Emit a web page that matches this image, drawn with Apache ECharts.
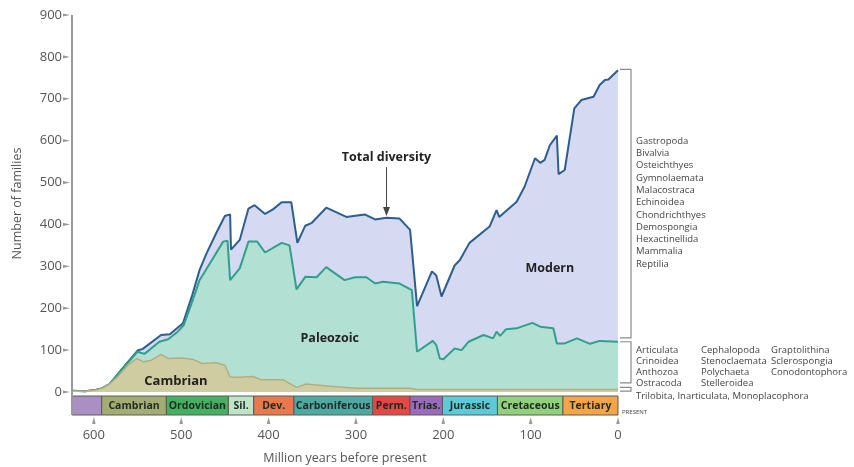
<!DOCTYPE html>
<html><head><meta charset="utf-8">
<script src="https://cdn.jsdelivr.net/npm/echarts/dist/echarts.min.js"></script>
<style>html,body{margin:0;padding:0;background:#fff}#c{width:854px;height:467px}</style>
</head><body><div id="c"></div>
<script>
// ---- data (age in million years before present, number of families) ----
const totalAges = [625,610,598,590,582,567,550,544,523,513,498,488,479,471,460,450,444,443,433,423,416,404,395,385,374,367,358,351,334,311,290,278,265,250,238,230,213,208,202,187,181,170,147,139,136,116,107,95,89,84,78,70,68,61,50,42,28,21,15,11,0];
const totalFamilies = [3,2,5,9,19,57,99,103,136,138,164,227,291,331,379,420,424,340,363,438,446,425,436,453,453,356,397,403,440,418,424,412,416,414,387,205,288,278,228,302,315,356,395,434,418,454,490,558,547,554,589,612,520,530,677,697,705,733,745,746,768];

const paleoTopAges = [625,610,598,590,582,567,550,542,525,515,504,497,488,479,466,452,447,444,433,423,413,404,385,376,368,358,345,334,313,301,288,278,269,250,236,230,212,208,204,200,187,179,171,154,143,139,135,128,116,98,89,74,70,61,47,32,21,0];
const paleoTopFamilies = [3,2,5,9,19,56,96,91,120,126,144,160,212,267,311,359,361,267,295,359,359,333,356,350,245,275,274,298,267,274,274,259,263,259,243,96,122,112,80,78,104,100,120,136,128,144,134,150,152,165,156,152,116,116,128,115,122,120];

const cambrianAges = [625,610,598,590,582,572,560,551,543,534,523,515,500,487,476,460,450,444,433,418,408,383,368,357,330,299,238,230,0];
const cambrianFamilies = [3,2,5,9,19,38,66,80,72,76,90,80,81,78,68,70,64,36,35,37,29,29,11,19,14,9,9,6,6];

const periodNames = ['', 'Cambrian', 'Ordovician', 'Sil.', 'Dev.', 'Carboniferous', 'Perm.', 'Trias.', 'Jurassic', 'Cretaceous', 'Tertiary'];
const periodStart = [625, 591, 517, 446, 417, 371, 281, 238, 201, 138, 63];
const periodEnd   = [591, 517, 446, 417, 371, 281, 238, 201, 138, 63, 0];

const xTicks = [0, 100, 200, 300, 400, 500, 600];
const yTicks = [0, 100, 200, 300, 400, 500, 600, 700, 800, 900];

const modernClasses = ['Gastropoda','Bivalvia','Osteichthyes','Gymnolaemata','Malacostraca','Echinoidea','Chondrichthyes','Demospongia','Hexactinellida','Mammalia','Reptilia'];
const paleozoicClasses = [
  ['Articulata','Crinoidea','Anthozoa','Ostracoda'],
  ['Cephalopoda','Stenoclaemata','Polychaeta','Stelleroidea'],
  ['Graptolithina','Sclerospongia','Conodontophora']
];
const cambrianClasses = 'Trilobita, Inarticulata, Monoplacophora';

// ---- styles ----
const periodColors = ['#a98fc2','#a3ad73','#45b062','#bfe3c6','#e8794f','#4ea9a3','#e04a43','#9b6bbb','#5ec9d9','#91d07c','#f6a449'];
const FONT = '"Open Sans", "Noto Sans", sans-serif';

const chart = echarts.init(document.getElementById('c'), null, {renderer: 'canvas'});
const pairs = (a, b) => a.map((x, i) => [x, b[i]]);

chart.setOption({
  animation: false,
  backgroundColor: '#fff',
  grid: [
    {left: 72, right: 236, top: 15, bottom: 75},
    {left: 72, right: 236, top: 396, height: 19}
  ],
  xAxis: [
    {gridIndex: 0, type: 'value', min: 0, max: 625, inverse: true, show: false},
    {gridIndex: 1, type: 'value', min: 0, max: 625, inverse: true,
     axisLine: {show: false}, splitLine: {show: false},
     axisTick: {show: false},
     axisLabel: {customValues: xTicks, color: '#555', fontSize: 13, fontFamily: FONT, margin: 14},
     name: 'Million years before present', nameLocation: 'middle', nameGap: 37,
     nameTextStyle: {color: '#555', fontSize: 12.5, fontFamily: FONT}}
  ],
  yAxis: [
    {gridIndex: 0, type: 'value', min: 0, max: 900, interval: 100, position: 'left', offset: 0,
     axisLine: {show: false, onZero: false},
     axisTick: {show: false},
     splitLine: {show: false},
     axisLabel: {color: '#555', fontSize: 13, fontFamily: FONT, margin: 10},
     name: 'Number of families', nameLocation: 'middle', nameGap: 48,
     nameTextStyle: {color: '#555', fontSize: 12.5, fontFamily: FONT}},
    {gridIndex: 1, type: 'value', min: 0, max: 1, show: false}
  ],
  series: [
    {name: 'Total diversity', type: 'line', xAxisIndex: 0, yAxisIndex: 0, data: pairs(totalAges, totalFamilies),
     symbol: 'none', z: 1, lineStyle: {color: '#2d5e8e', width: 2}, areaStyle: {color: '#d5daf2', opacity: 1}},
    {name: 'Paleozoic', type: 'line', xAxisIndex: 0, yAxisIndex: 0, data: pairs(paleoTopAges, paleoTopFamilies),
     symbol: 'none', z: 2, lineStyle: {color: '#2fa08c', width: 2}, areaStyle: {color: '#b2e0d3', opacity: 1}},
    {name: 'Cambrian', type: 'line', xAxisIndex: 0, yAxisIndex: 0, data: pairs(cambrianAges, cambrianFamilies),
     symbol: 'none', z: 3, lineStyle: {color: '#b2ae80', width: 1.5}, areaStyle: {color: '#d0cca2', opacity: 1}},
    {name: 'Periods', type: 'custom', xAxisIndex: 1, yAxisIndex: 1,
     data: periodStart.map((s, i) => [s, periodEnd[i]]),
     renderItem: function (params, api) {
       const a = api.coord([api.value(0), 0]);
       const b = api.coord([api.value(1), 0]);
       const cs = params.coordSys;
       const x0 = Math.min(a[0], b[0]), w = Math.abs(b[0] - a[0]);
       const i = params.dataIndex;
       return {type: 'group', children: [
         {type: 'rect', shape: {x: x0, y: cs.y, width: w, height: cs.height},
          style: {fill: periodColors[i], stroke: '#5a5a5a', lineWidth: 1}},
         {type: 'text', style: {text: periodNames[i], x: x0 + w / 2, y: cs.y + cs.height / 2 + 0.5,
          align: 'center', verticalAlign: 'middle', fontSize: 10.5, fontWeight: 'bold', fontFamily: FONT, fill: '#1f2a22'}}
       ]};
     }}
  ]
});

function px(t, v) { return chart.convertToPixel({xAxisIndex: 0, yAxisIndex: 0}, [t, v]); }
function pxBar(t, v) { return chart.convertToPixel({xAxisIndex: 1, yAxisIndex: 1}, [t, v]); }

const g = [];
const lbl = (text, t, v, size) => {
  const p = px(t, v);
  g.push({type: 'text', x: p[0], y: p[1], style: {text: text, align: 'center', verticalAlign: 'middle',
    fontSize: size, fontWeight: 'bold', fontFamily: FONT, fill: '#222'}, z: 50});
};
lbl('Cambrian', 506, 26, 13);
lbl('Paleozoic', 330, 129, 12.5);
lbl('Modern', 78, 296, 12.5);
lbl('Total diversity', 265, 560, 12.5);
// arrow to total diversity line
const a0 = px(265, 537), a1 = px(265, 420);
g.push({type: 'line', shape: {x1: a0[0], y1: a0[1], x2: a1[0], y2: a1[1] - 4}, style: {stroke: '#444', lineWidth: 1}, z: 50});
g.push({type: 'polygon', shape: {points: [[a1[0] - 3.5, a1[1] - 9], [a1[0] + 3.5, a1[1] - 9], [a1[0], a1[1]]]}, style: {fill: '#444'}, z: 50});

// left axis line (continues down along the period bar) and its ticks
const yTop = px(625, 900), yBot = pxBar(625, 0);
g.push({type: 'line', shape: {x1: yTop[0], y1: yTop[1], x2: yBot[0], y2: yBot[1]}, style: {stroke: '#999', lineWidth: 2}, z: 40});
yTicks.forEach(v => {
  const p = px(625, v);
  g.push({type: 'polygon', shape: {points: [[p[0] - 9, p[1] - 1.6], [p[0] - 2, p[1]], [p[0] - 9, p[1] + 1.6]]},
    style: {fill: '#999'}, z: 40});
});
// bottom ticks (small triangles under the period bar)
xTicks.forEach(t => {
  const p = pxBar(t, 0);
  g.push({type: 'polygon', shape: {points: [[p[0] - 1.8, p[1] + 9], [p[0], p[1] + 2], [p[0] + 1.8, p[1] + 9]]},
    style: {fill: '#999'}, z: 40});
});

// brackets on the right
const xr = px(0, 0)[0];
const bracket = (vTop, vBot) => {
  const yT = px(0, vTop)[1], yB = px(0, vBot)[1];
  g.push({type: 'polyline', shape: {points: [[xr + 2, yT], [xr + 13, yT], [xr + 13, yB], [xr + 2, yB]]},
    style: {stroke: '#8a8a8a', lineWidth: 1.2, fill: null}, z: 50});
};
bracket(770, 129);
bracket(120, 22);
bracket(11, 2);

const txt = (text, x, y, size) => g.push({type: 'text', x: x, y: y, style: {text: text, verticalAlign: 'middle',
  fontSize: size, fontFamily: FONT, fill: '#444'}, z: 50});
modernClasses.forEach((c, i) => txt(c, xr + 18, 141 + i * 12.3, 9.5));
paleozoicClasses.forEach((col, j) => col.forEach((c, i) => txt(c, xr + 18 + [0, 65, 135][j], 350 + i * 11, 9.5)));
txt(cambrianClasses, xr + 18, 396, 9.5);
txt('PRESENT', xr + 4, 412, 6);

chart.setOption({graphic: g});
</script></body></html>
